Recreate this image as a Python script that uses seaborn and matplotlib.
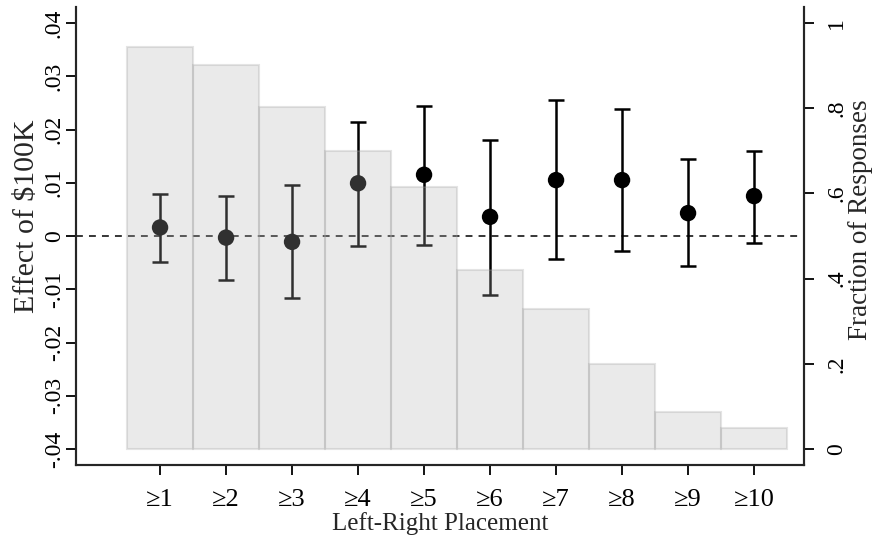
import numpy as np
import pandas as pd
import seaborn as sns
import matplotlib
matplotlib.use("Agg")
import matplotlib.pyplot as plt
from matplotlib.ticker import FuncFormatter

# values
placement = ["≥1", "≥2", "≥3", "≥4", "≥5", "≥6", "≥7", "≥8", "≥9", "≥10"]
effect = [0.0016, -0.0003, -0.0011, 0.0099, 0.0115, 0.0036, 0.0105, 0.0105, 0.0043, 0.0075]
ci_low = [-0.0048, -0.0082, -0.0117, -0.0019, -0.0017, -0.0110, -0.0044, -0.0028, -0.0057, -0.0013]
ci_high = [0.0079, 0.0076, 0.0095, 0.0215, 0.0245, 0.0180, 0.0255, 0.0239, 0.0144, 0.0160]
fraction = [0.944, 0.901, 0.802, 0.700, 0.616, 0.420, 0.329, 0.200, 0.088, 0.049]

df = pd.DataFrame({"placement": placement, "effect": effect,
                   "lo": ci_low, "hi": ci_high, "fraction": fraction})
df["pos"] = np.arange(len(df))

sns.set_style("ticks")
plt.rcParams["font.family"] = ["Liberation Serif", "DejaVu Serif"]


def stata_fmt(v, _):
    s = f"{v:.2f}".rstrip("0").rstrip(".")
    if s in ("-0", ""):
        s = "0"
    s = s.replace("0.", ".", 1) if s.startswith("0.") else s.replace("-0.", "-.", 1)
    return s


fig = plt.figure(figsize=(8.74, 5.41), dpi=100)
ax1 = fig.add_axes([0.087, 0.1405, 0.833, 0.8465])

# point estimates with CIs
yerr = np.vstack([df["effect"] - df["lo"], df["hi"] - df["effect"]])
ax1.errorbar(df["pos"], df["effect"], yerr=yerr, fmt="none", ecolor="black",
             elinewidth=1.8, capsize=6, capthick=1.8, zorder=2)
sns.scatterplot(data=df, x="pos", y="effect", ax=ax1, color="black", s=140,
                edgecolor="none", zorder=3, legend=False)
ax1.axhline(0, color="black", lw=1.1, ls=(0, (4.5, 4)), zorder=1)

# distribution of responses on the right axis
ax2 = ax1.twinx()
sns.barplot(data=df, x="pos", y="fraction", ax=ax2, width=1.0, native_scale=True,
            color=(0.7, 0.7, 0.7), alpha=0.27, edgecolor=(0.62, 0.62, 0.62),
            linewidth=1.5, saturation=1)

ax1.set_ylim(-0.043, 0.043)
ax2.set_ylim(-16 / 426, 1 + 16 / 426)
ax1.set_xlim(-1.273, 9.758)

ax1.set_yticks(np.round(np.arange(-0.04, 0.041, 0.01), 2))
ax1.yaxis.set_major_formatter(FuncFormatter(stata_fmt))
ax2.set_yticks([0, 0.2, 0.4, 0.6, 0.8, 1.0])
ax2.yaxis.set_major_formatter(FuncFormatter(stata_fmt))
ax1.set_xticks(df["pos"])
ax1.set_xticklabels(df["placement"])

for ax in (ax1, ax2):
    ax.spines["top"].set_visible(False)
    for s in ax.spines.values():
        s.set_linewidth(1.5)
    ax.tick_params(length=7, width=1.3, labelsize=17, colors="black")
ax1.tick_params(axis="x", labelsize=19, pad=10)
ax1.tick_params(axis="y", pad=1)
ax2.tick_params(axis="y", pad=9)
for t in ax1.get_yticklabels() + ax2.get_yticklabels():
    t.set_rotation(90)
    t.set_va("center")

ax1.set_xlabel("Left-Right Placement", fontsize=18, labelpad=1)
ax1.set_ylabel("Effect of \\$100K", fontsize=21.5)
ax2.set_ylabel("Fraction of Responses", fontsize=19.5, rotation=90)
ax2.set_xlabel("")
# titles sit a little above the middle of the plot region, as in the original
ax1.yaxis.set_label_coords(-0.05, 0.543)
ax2.yaxis.set_label_coords(1.061, 0.536)

fig.savefig("out.png", dpi=100, facecolor="white")
